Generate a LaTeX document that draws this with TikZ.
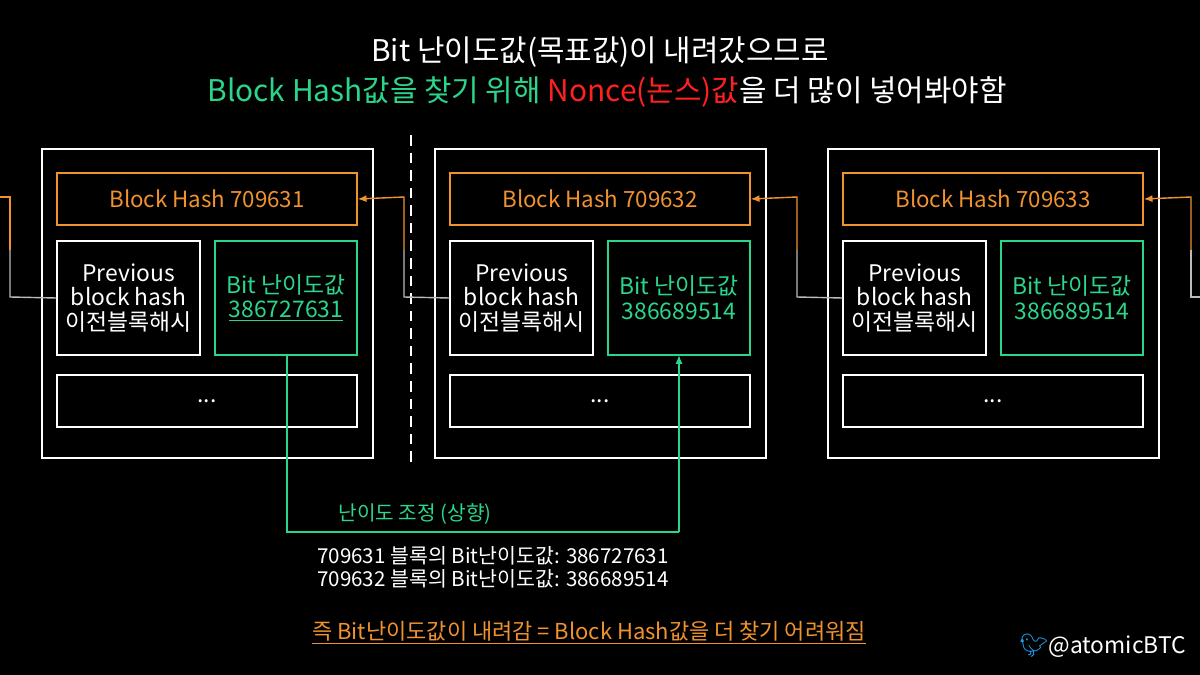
\documentclass[tikz,border=0pt]{standalone}
\usepackage{fontspec}
\setmainfont{Noto Sans CJK KR}
\newfontfamily\emo{Noto Emoji}
\usetikzlibrary{arrows.meta}
\definecolor{og}{HTML}{F0922E}
\definecolor{gn}{HTML}{2BD68A}
\definecolor{rd}{HTML}{FF2020}
\definecolor{gy}{HTML}{BBBBBB}
\definecolor{tw}{HTML}{1DA1F2}
\begin{document}
\begin{tikzpicture}[x=0.02cm,y=-0.02cm,
 outer/.style={draw=white,line width=0.8pt},
 hbox/.style={draw=og,line width=0.8pt,text=og,font=\fontsize{12.7}{15}\selectfont,inner sep=0},
 pbox/.style={draw=white,line width=0.8pt,text=white,font=\fontsize{13}{15}\selectfont,align=center,inner sep=0},
 bbox/.style={draw=gn,line width=0.8pt,text=gn,font=\fontsize{13}{15}\selectfont,align=center,inner sep=0},
 ar/.style={-{Latex[length=5pt,width=4pt]},line width=0.8pt}]
\fill[black] (0,0) rectangle (1200,675);
\useasboundingbox (0,0) rectangle (1200,675);
\node[white,font=\fontsize{17}{20}\selectfont] (t1) at (600,52) {Bit 난이도값(목표값)이 내려갔으므로};
\node[font=\fontsize{17}{20}\selectfont] (t2) at (607,92) {\textcolor{gn}{Block Hash값을 찾기 위해} \textcolor{rd}{Nonce(논스)값}\textcolor{white}{을 더 많이 넣어봐야함}};
\draw[white,dash pattern=on 6pt off 4pt,line width=0.8pt] (411,135) -- (411,462);
\foreach \i/\n/\b in {0/709631/{\underline{386727631}},1/709632/386689514,2/709633/386689514}{
 \begin{scope}[xshift=\i*393*0.02cm]
 \draw[outer] (42,149) rectangle (373,458);
 \node[hbox,minimum width=300*0.02cm,minimum height=52*0.02cm] (h\i) at (207,199) {Block Hash \n};
 \node[pbox,minimum width=143*0.02cm,minimum height=114*0.02cm] (p\i) at (128.5,298) {Previous\\[-1pt]block hash\\[-1pt]이전블록해시};
 \node[bbox,minimum width=142*0.02cm,minimum height=114*0.02cm] (g\i) at (286,298) {Bit 난이도값\\[-1pt]\b};
 \node[pbox,minimum width=300*0.02cm,minimum height=52*0.02cm] (d\i) at (207,401) {...};
 \end{scope}}
% chain connectors
\coordinate (c0a) at (10,197); \coordinate (c0b) at (10,297);
\draw[gy,line width=0.8pt] (p0.west) -- (c0b) -- (10,250);
\draw[og,line width=0.8pt] (10,250) -- (c0a) -- (0,197);
\draw[gy,line width=0.8pt] (p1.west) -- (404,297) -- (404,250);
\draw[og,ar] (404,250) -- (404,197) -- (h0.east);
\draw[gy,line width=0.8pt] (p2.west) -- (797,297) -- (797,250);
\draw[og,ar] (797,250) -- (797,197) -- (h1.east);
\draw[gy,line width=0.8pt] (1200,297) -- (1191,297) -- (1191,250);
\draw[og,ar] (1191,250) -- (1191,197) -- (h2.east);
% difficulty adjustment
\coordinate (k1) at (287,532); \coordinate (k2) at (679,532);
\draw[gn,line width=0.8pt] (287,355) -- (k1) -- (k2);
\draw[gn,ar] (k2) -- (679,355);
\node[gn,font=\fontsize{11.5}{14}\selectfont] (lab) at (415,514) {난이도 조정 (상향)};
\node[white,anchor=west,font=\fontsize{11.7}{14}\selectfont,align=left] (info) at (311,567) {709631 블록의 Bit난이도값: 386727631\\[-1pt]709632 블록의 Bit난이도값: 386689514};
\node[og,font=\fontsize{12.5}{15}\selectfont] (con) at (589,633) {\underline{즉 Bit난이도값이 내려감 = Block Hash값을 더 찾기 어려워짐}};
\node[white,anchor=east,font=\fontsize{13}{15}\selectfont] (tw) at (1192,646) {{\emo\textcolor{tw}{🐦}}@atomicBTC};
\end{tikzpicture}
\end{document}
